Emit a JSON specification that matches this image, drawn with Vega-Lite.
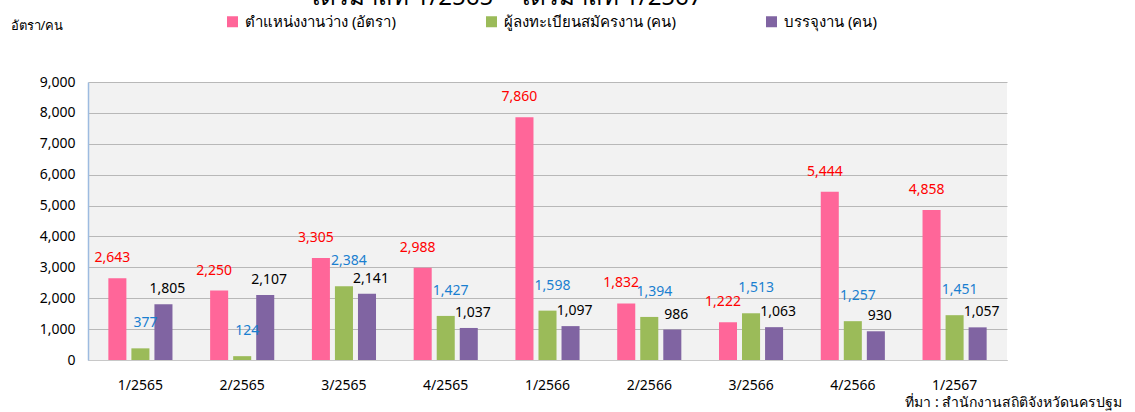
{
  "$schema": "https://vega.github.io/schema/vega-lite/v6.json",
  "width": 919,
  "height": 278,
  "autosize": {"type": "none"},
  "padding": {"left": 88, "top": 82, "right": 128, "bottom": 52},
  "background": "white",
  "config": {
    "view": {"fill": "#f2f2f2", "stroke": null},
    "font": "Noto Sans"
  },
  "title": {
    "text": "ไตรมาสที่ 1/2565 – ไตรมาสที่ 1/2567",
    "fontSize": 24,
    "fontWeight": "normal",
    "color": "#000000",
    "anchor": "middle",
    "frame": "group",
    "dx": -42,
    "offset": 4
  },
  "data": {
    "values": [
      {"quarter": "1/2565", "series": "ตำแหน่งงานว่าง (อัตรา)", "value": 2643},
      {"quarter": "1/2565", "series": "ผู้ลงทะเบียนสมัครงาน (คน)", "value": 377},
      {"quarter": "1/2565", "series": "บรรจุงาน (คน)", "value": 1805},
      {"quarter": "2/2565", "series": "ตำแหน่งงานว่าง (อัตรา)", "value": 2250},
      {"quarter": "2/2565", "series": "ผู้ลงทะเบียนสมัครงาน (คน)", "value": 124},
      {"quarter": "2/2565", "series": "บรรจุงาน (คน)", "value": 2107},
      {"quarter": "3/2565", "series": "ตำแหน่งงานว่าง (อัตรา)", "value": 3305},
      {"quarter": "3/2565", "series": "ผู้ลงทะเบียนสมัครงาน (คน)", "value": 2384},
      {"quarter": "3/2565", "series": "บรรจุงาน (คน)", "value": 2141},
      {"quarter": "4/2565", "series": "ตำแหน่งงานว่าง (อัตรา)", "value": 2988},
      {"quarter": "4/2565", "series": "ผู้ลงทะเบียนสมัครงาน (คน)", "value": 1427},
      {"quarter": "4/2565", "series": "บรรจุงาน (คน)", "value": 1037},
      {"quarter": "1/2566", "series": "ตำแหน่งงานว่าง (อัตรา)", "value": 7860},
      {"quarter": "1/2566", "series": "ผู้ลงทะเบียนสมัครงาน (คน)", "value": 1598},
      {"quarter": "1/2566", "series": "บรรจุงาน (คน)", "value": 1097},
      {"quarter": "2/2566", "series": "ตำแหน่งงานว่าง (อัตรา)", "value": 1832},
      {"quarter": "2/2566", "series": "ผู้ลงทะเบียนสมัครงาน (คน)", "value": 1394},
      {"quarter": "2/2566", "series": "บรรจุงาน (คน)", "value": 986},
      {"quarter": "3/2566", "series": "ตำแหน่งงานว่าง (อัตรา)", "value": 1222},
      {"quarter": "3/2566", "series": "ผู้ลงทะเบียนสมัครงาน (คน)", "value": 1513},
      {"quarter": "3/2566", "series": "บรรจุงาน (คน)", "value": 1063},
      {"quarter": "4/2566", "series": "ตำแหน่งงานว่าง (อัตรา)", "value": 5444},
      {"quarter": "4/2566", "series": "ผู้ลงทะเบียนสมัครงาน (คน)", "value": 1257},
      {"quarter": "4/2566", "series": "บรรจุงาน (คน)", "value": 930},
      {"quarter": "1/2567", "series": "ตำแหน่งงานว่าง (อัตรา)", "value": 4858},
      {"quarter": "1/2567", "series": "ผู้ลงทะเบียนสมัครงาน (คน)", "value": 1451},
      {"quarter": "1/2567", "series": "บรรจุงาน (คน)", "value": 1057}
    ]
  },
  "encoding": {
    "x": {
      "field": "quarter",
      "type": "nominal",
      "sort": null,
      "scale": {"paddingInner": 0.37, "paddingOuter": 0.2},
      "axis": {
        "labelAngle": 0,
        "labelFontSize": 14,
        "labelColor": "#000000",
        "labelPadding": 18,
        "ticks": false,
        "domainColor": "#c8c8c8",
        "title": "ที่มา : สำนักงานสถิติจังหวัดนครปฐม",
        "titleFontSize": 14,
        "titleFontWeight": "normal",
        "titleColor": "#000000",
        "titleX": 1034,
        "titleY": 42,
        "titleAlign": "right",
        "titleBaseline": "middle"
      }
    },
    "xOffset": {
      "field": "series",
      "type": "nominal",
      "sort": ["ตำแหน่งงานว่าง (อัตรา)", "ผู้ลงทะเบียนสมัครงาน (คน)", "บรรจุงาน (คน)"],
      "scale": {"paddingInner": 0.217}
    },
    "y": {
      "field": "value",
      "type": "quantitative",
      "scale": {"domain": [0, 9000], "nice": false},
      "axis": {
        "values": [0, 1000, 2000, 3000, 4000, 5000, 6000, 7000, 8000, 9000],
        "format": ",.0f",
        "labelFontSize": 14,
        "labelColor": "#000000",
        "labelPadding": 13,
        "ticks": false,
        "domainColor": "#9dbbe0",
        "domainWidth": 1.5,
        "gridColor": "#b8b8b8",
        "title": "อัตรา/คน",
        "titleAngle": 0,
        "titleFontSize": 13,
        "titleFontWeight": "normal",
        "titleColor": "#000000",
        "titleX": -78,
        "titleY": -57,
        "titleAlign": "left",
        "titleBaseline": "middle"
      }
    }
  },
  "layer": [
    {
      "mark": {"type": "bar"},
      "encoding": {
        "color": {
          "field": "series",
          "type": "nominal",
          "sort": ["ตำแหน่งงานว่าง (อัตรา)", "ผู้ลงทะเบียนสมัครงาน (คน)", "บรรจุงาน (คน)"],
          "scale": {"range": ["#ff6699", "#9bbb59", "#8064a2"]},
          "legend": {
            "title": null,
            "orient": "none",
            "direction": "horizontal",
            "legendX": 137,
            "legendY": -68,
            "symbolType": "square",
            "symbolSize": 121,
            "symbolStrokeWidth": 0,
            "labelFontSize": 15,
            "labelColor": "#000000",
            "labelOffset": 5,
            "columnPadding": 88,
            "labelLimit": 300
          }
        }
      }
    },
    {
      "transform": [{"filter": "datum.series === 'ตำแหน่งงานว่าง (อัตรา)'"}],
      "mark": {"type": "text", "baseline": "bottom", "dy": -13, "dx": -5, "fontSize": 14, "color": "#ff0000"},
      "encoding": {
        "text": {"field": "value", "type": "quantitative", "format": ",.0f"}
      }
    },
    {
      "transform": [{"filter": "datum.series === 'ผู้ลงทะเบียนสมัครงาน (คน)'"}],
      "mark": {"type": "text", "baseline": "bottom", "dy": -18, "dx": 5, "fontSize": 14, "color": "#1a7fd0"},
      "encoding": {
        "text": {"field": "value", "type": "quantitative", "format": ",.0f"}
      }
    },
    {
      "transform": [{"filter": "datum.series === 'บรรจุงาน (คน)'"}],
      "mark": {"type": "text", "baseline": "bottom", "dy": -8, "dx": 4, "fontSize": 14, "color": "#000000"},
      "encoding": {
        "text": {"field": "value", "type": "quantitative", "format": ",.0f"}
      }
    }
  ]
}
